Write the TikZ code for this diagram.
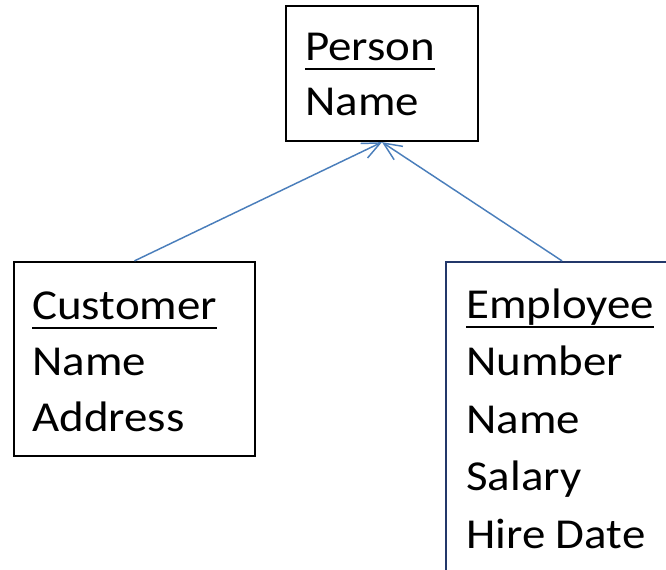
\documentclass[tikz,border=0pt]{standalone}
\usepackage{fontspec}
\setmainfont{Carlito}[FakeStretch=1.1]
\usetikzlibrary{arrows.meta}
\def\wBox{1.7pt}
\def\wLink{1.1pt}
\definecolor{cInk}{HTML}{000000}
\definecolor{cNavy}{HTML}{23386A}
\definecolor{cLink}{HTML}{4A7EBB}
\tikzset{
  cls/.style={draw=cInk, line width=\wBox, fill=white, inner sep=0pt},
  attr/.style={font=\fontsize{32pt}{43pt}\selectfont, anchor=base west, inner sep=0pt},
  inherit/.style={draw=cLink, line width=\wLink, -{Straight Barb[length=13.5pt,width=12pt]}},
}
% class name with a heavy underline
\newcommand{\clsname}[1]{\setbox0\hbox{#1}\rlap{\rule[-7.5pt]{\wd0}{1.8pt}}\box0}

\begin{document}
\begin{tikzpicture}[x=0.75pt, y=-0.75pt]
\useasboundingbox (0,0) rectangle (666,569);
\clip (0,0) rectangle (666,569);
% three class boxes
\node[cls, minimum width=144pt, minimum height=101.25pt] (person) at (382,73.5) {};
\node[cls, minimum width=180.75pt, minimum height=145.5pt] (customer) at (134.5,359) {};
\node[cls, draw=cNavy, minimum width=174pt, minimum height=247.5pt] (employee) at (562,427) {};
% names and attributes
\node[attr] (person-0) at (305,60) {\clsname{Person}};
\node[attr] (person-1) at (305,115) {Name};
\node[attr] (customer-0) at (32,319) {\clsname{Customer}};
\foreach \txt [count=\i] in {Name, Address}
  \node[attr] (customer-\i) at (32,{319+56*\i}) {\txt};
\node[attr] (employee-0) at (466,318) {\clsname{Employee}};
\foreach \txt [count=\i] in {Number, Name, Salary, Hire Date}
  \node[attr] (employee-\i) at (466,{318+57.5*\i}) {\txt};
% generalisation links
\draw[inherit] (customer.north) -- (person.south);
\draw[inherit] (employee.north) -- (person.south);
\end{tikzpicture}
\end{document}
